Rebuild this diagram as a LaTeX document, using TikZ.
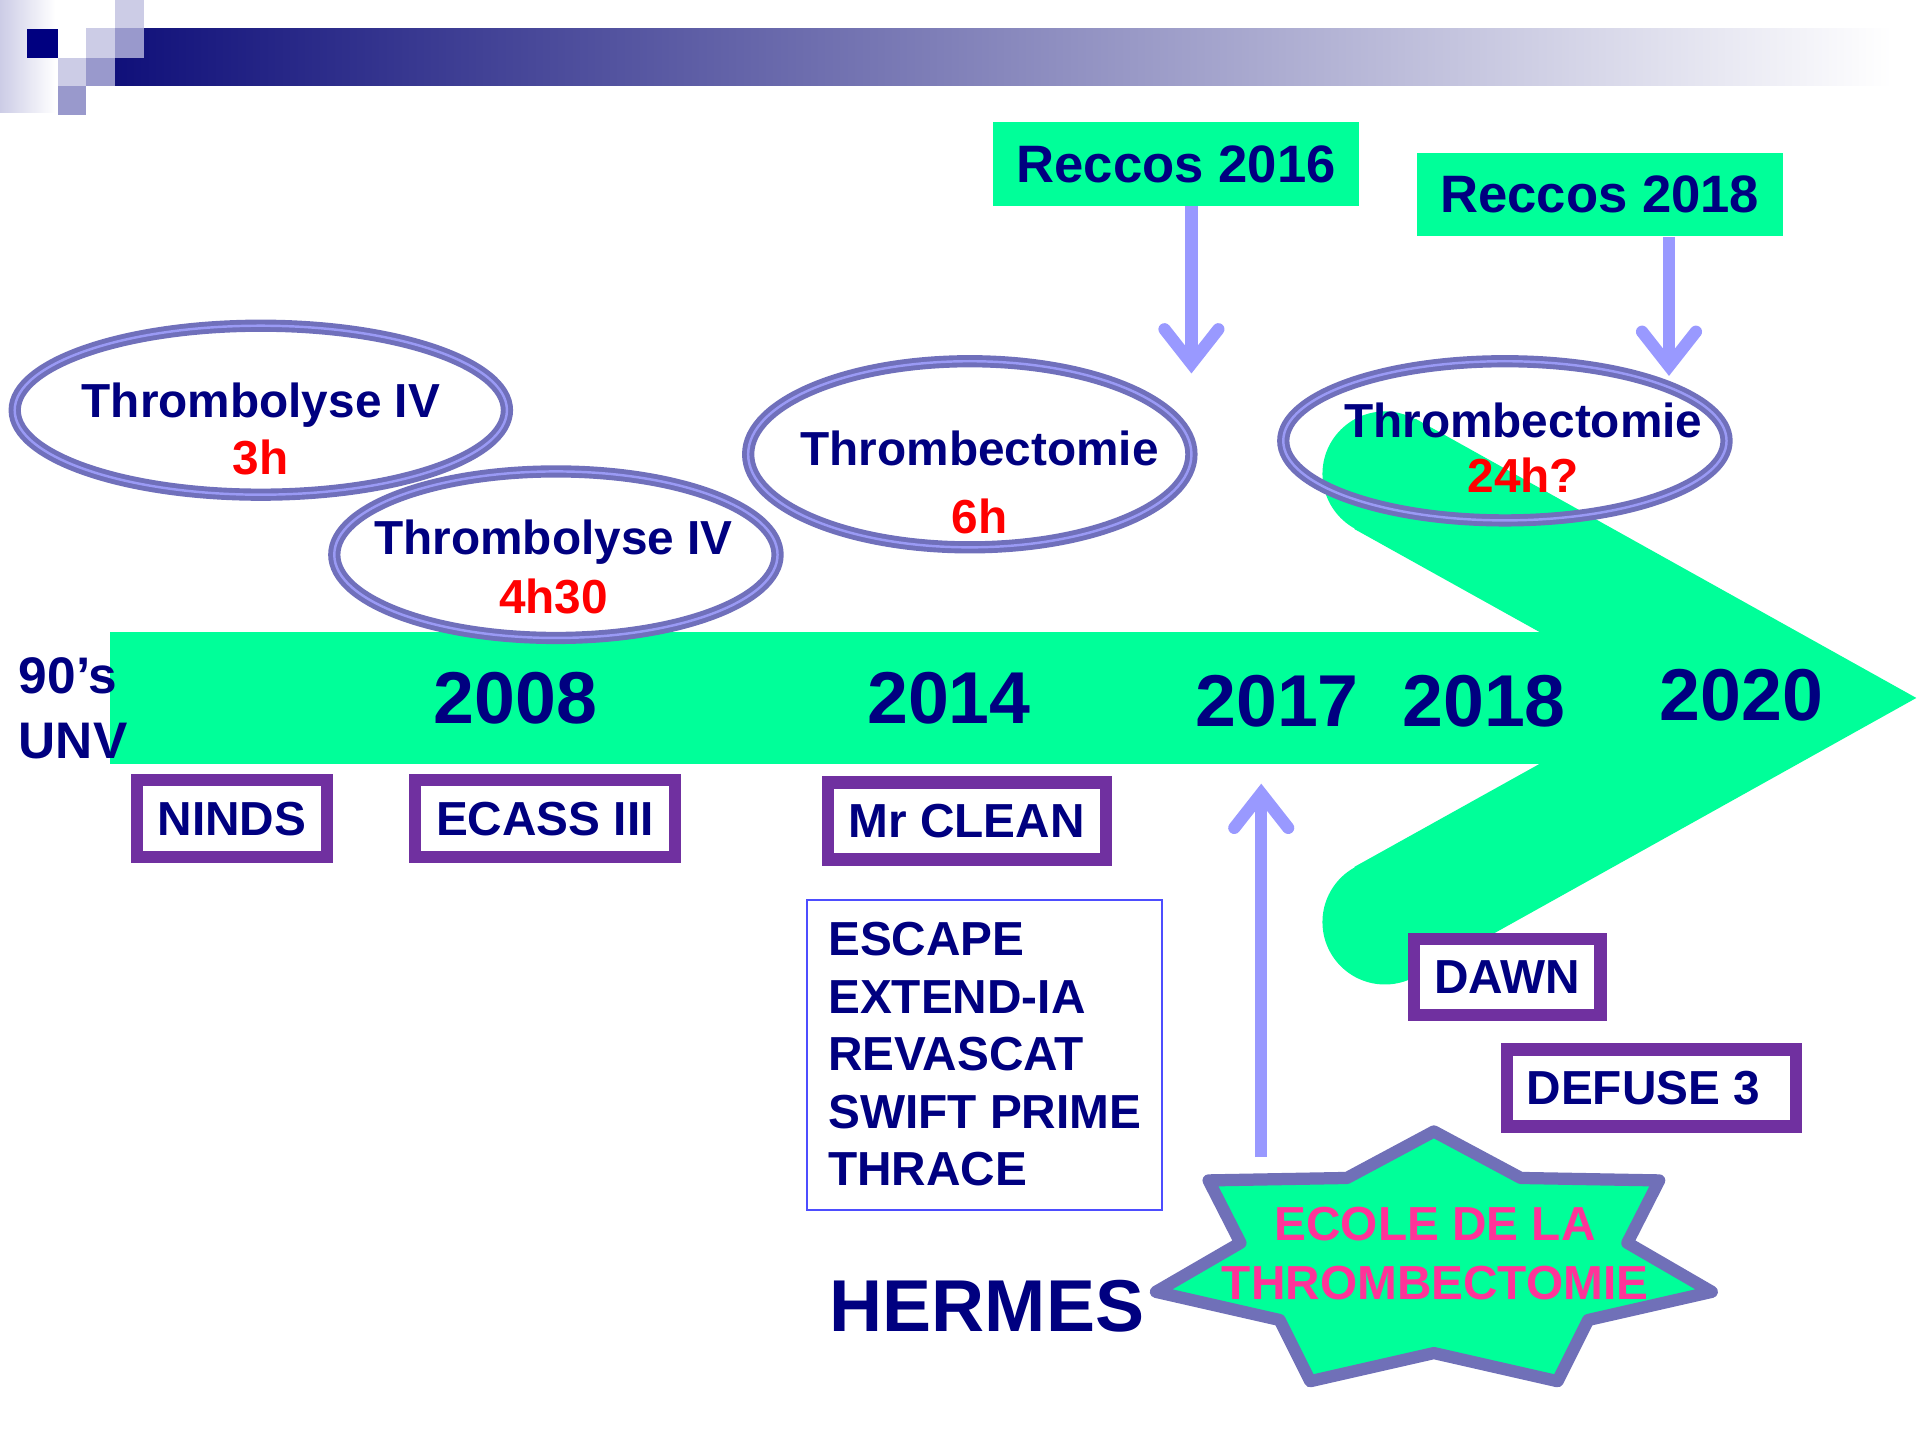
\documentclass[tikz,border=0pt]{standalone}
\usepackage{fontspec}
\setmainfont{Liberation Sans}
\usetikzlibrary{shapes.geometric,arrows.meta}
\definecolor{navy}{HTML}{000080}
\definecolor{barnavy}{HTML}{10107A}
\definecolor{lav}{HTML}{CCCCE6}
\definecolor{med}{HTML}{9999CC}
\definecolor{sgreen}{HTML}{00FF99}
\definecolor{elldark}{HTML}{7070BB}
\definecolor{elllight}{HTML}{9A9AF5}
\definecolor{arrowcol}{HTML}{9999FF}
\definecolor{boxpurple}{HTML}{7030A0}
\definecolor{pinktxt}{HTML}{FF3399}
\definecolor{listblue}{HTML}{4D4DFF}
\definecolor{stardraw}{HTML}{7070B8}
\begin{document}
\begin{tikzpicture}[x=0.5pt,y=-0.5pt,
  ell/.style={ellipse, draw=elldark, line width=2pt, double=elllight, double distance=1pt, inner sep=0pt},
  lbl/.style={text=navy, inner sep=0pt, align=center},
  pbox/.style={draw=boxpurple, line width=5pt, fill=white, font=\fontsize{19.5}{23.5}\selectfont\bfseries, text=navy, inner sep=0pt},
  year/.style={font=\fontsize{30}{36}\selectfont\bfseries, text=navy, inner sep=0pt},
  reccos/.style={fill=sgreen, font=\fontsize{21.5}{26}\selectfont\bfseries, text=navy, inner sep=0pt, minimum width=149.5pt, minimum height=34pt},
  recarrow/.style={draw=arrowcol, line width=5pt, -{Straight Barb[length=14pt,width=22pt,line cap=round,line join=miter]}}
]
\useasboundingbox (0,0) rectangle (1568,1176);
% banner
\shade[left color=lav, right color=white] (0,0) rectangle (45,92);
\shade[left color=barnavy, right color=white] (94,23) rectangle (1545,70);
\fill[lav] (94,0) rectangle (118,23);
\fill[lav] (70,23) rectangle (94,47);
\fill[med] (94,23) rectangle (118,47);
\fill[lav] (47,47) rectangle (70,70);
\fill[med] (70,47) rectangle (94,70);
\fill[med] (47,70) rectangle (70,94);
\fill[navy] (22,24) rectangle (47,47);

% ellipse 1
\node[ell, fill=white, minimum width=201pt, minimum height=69pt] (e1) at (213,335) {};
\node[lbl, font=\fontsize{19.5}{23.5}\selectfont\bfseries] (t1) at (213,350.5) {Thrombolyse IV\\\textcolor{red}{3h}};

% ellipse 4 fill under arrow
\node[ellipse, fill=white, inner sep=0pt, minimum width=181pt, minimum height=65pt] (e4fill) at (1229,360) {};

% green arrow
\fill[sgreen] (90,516) rectangle (1300,624);
\fill[sgreen] (1156,342) -- (1565,570) -- (1156,798) -- (1106,708) -- (1257,624) -- (1257,516) -- (1106,432) -- cycle;
\fill[sgreen] (1131,387) circle (25.5pt);
\fill[sgreen] (1131,753) circle (25.5pt);

% ellipse 2
\node[ell, fill=white, minimum width=181pt, minimum height=68pt] (e2) at (454,453) {};
\node[lbl, font=\fontsize{19.5}{24}\selectfont\bfseries] (t2) at (452,463) {Thrombolyse IV\\\textcolor{red}{4h30}};

% ellipse 3
\node[ell, fill=white, minimum width=181pt, minimum height=76pt] (e3) at (792,371) {};
\node[lbl, font=\fontsize{19.5}{28}\selectfont\bfseries] (t3) at (800,394) {Thrombectomie\\\textcolor{red}{6h}};

% ellipse 4 border
\node[ell, minimum width=181pt, minimum height=65pt] (e4) at (1229,360) {};
\node[lbl, font=\fontsize{19.5}{22.5}\selectfont\bfseries] (t4) at (1244,365.5) {Thrombectomie\\\textcolor{red}{24h?}};

% years
\node[lbl, anchor=west, align=left, font=\fontsize{21}{26.5}\selectfont\bfseries] (unv) at (15,578.5) {90’s\\UNV};
\node[year] (y2008) at (421,570) {2008};
\node[year] (y2014) at (775,570) {2014};
\node[year] (y2017) at (1043,573) {2017};
\node[year] (y2018) at (1212,573) {2018};
\node[year] (y2020) at (1422,568) {2020};

% purple boxes
\node[pbox, minimum width=77.5pt, minimum height=31.5pt] (ninds) at (189.5,668.5) {NINDS};
\node[pbox, minimum width=106pt, minimum height=31.5pt] (ecass) at (445,668.5) {ECASS III};
\node[pbox, minimum width=113.5pt, minimum height=31.5pt] (clean) at (789.5,670.5) {Mr CLEAN};
\node[pbox, minimum width=76pt, minimum height=31pt] (dawn) at (1231,798) {DAWN};
\node[pbox, minimum width=118pt, minimum height=31.5pt] (defuse) at (1349,888.5) {};
\node[lbl, font=\fontsize{19.5}{23.5}\selectfont\bfseries] (defusetxt) at (1342,889) {DEFUSE 3};

% list box
\node[draw=listblue, line width=0.8pt, minimum width=145pt, minimum height=126.5pt, inner sep=0pt] (listbox) at (804,861.5) {};
\node[lbl, anchor=west, align=left, font=\fontsize{19.5}{23.5}\selectfont\bfseries] (list) at (676,861) {ESCAPE\\EXTEND-IA\\REVASCAT\\SWIFT PRIME\\THRACE};

% Reccos
\node[reccos] (r16) at (960.5,134) {Reccos 2016};
\node[reccos] (r18) at (1306.5,159) {Reccos 2018};
\coordinate (a16) at (973,305);
\coordinate (a18) at (1363,307);
\draw[recarrow] (r16.south -| a16) -- (a16);
\draw[recarrow] (r18.south -| a18) -- (a18);

% up arrow
\coordinate (ub) at (1030,945);
\coordinate (ut) at (1030,640);
\draw[recarrow] (ub) -- (ut);

% star
\filldraw[fill=sgreen, draw=stardraw, line width=5pt, line join=round]
  (1171,924) -- (1242,962) -- (1355,964) -- (1329,1015) -- (1398,1055) -- (1297,1078)
  -- (1272,1128) -- (1171,1105) -- (1070,1128) -- (1045,1078) -- (944,1055)
  -- (1013,1015) -- (987,964) -- (1100,962) -- cycle;
\node[lbl, text=pinktxt, font=\fontsize{19.5}{24}\selectfont\bfseries] (ecole) at (1172,1024) {ECOLE DE LA\\THROMBECTOMIE};

% HERMES
\node[lbl, font=\fontsize{30}{36}\selectfont\bfseries] (hermes) at (806,1067) {HERMES};
\end{tikzpicture}
\end{document}
